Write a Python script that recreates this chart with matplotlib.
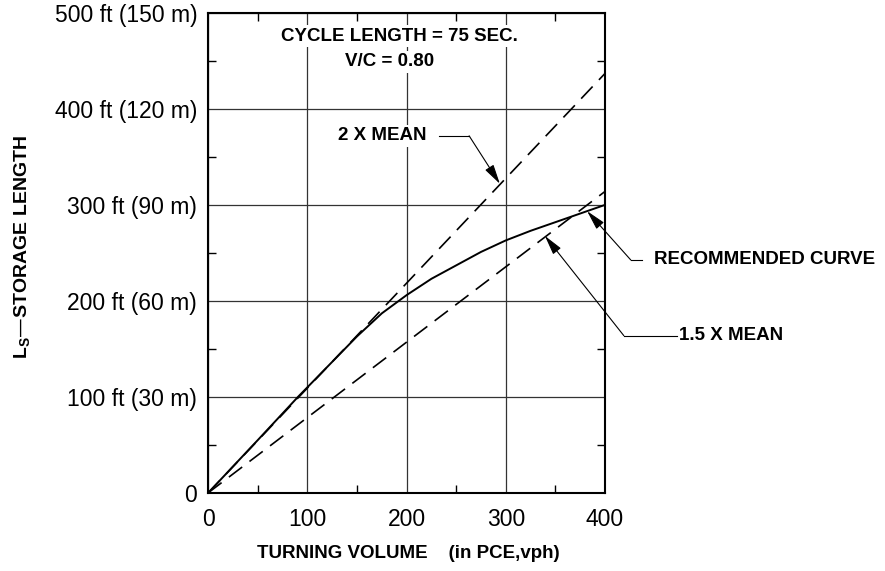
import numpy as np
import matplotlib
matplotlib.use("Agg")
import matplotlib.pyplot as plt

# =========================================================
# DATA
# =========================================================

# turning volume (PCE, vph) and storage length (ft)
vol_recommended = [0, 50, 90.5, 100, 150, 175, 200, 225, 250, 275, 300, 325, 350, 375, 400]
len_recommended = [0, 55, 100, 110, 163, 187, 206, 223, 237, 251, 263, 273, 282, 291, 300]

vol_2x = [0, 400]
len_2x = [0, 437]

vol_15x = [0, 400]
len_15x = [0, 314]

x_ticks = [0, 100, 200, 300, 400]
y_ticks = [0, 100, 200, 300, 400, 500]
y_tick_labels = ["0", "100 ft (30 m)", "200 ft (60 m)", "300 ft (90 m)",
                 "400 ft (120 m)", "500 ft (150 m)"]

# =========================================================
# FIGURE
# =========================================================

plt.rcParams["font.family"] = ["Liberation Sans", "DejaVu Sans"]

fig = plt.figure(figsize=(8.85, 5.71), dpi=100)
ax = fig.add_axes([0.2354, 0.1371, 0.4482, 0.8401])

ax.set_xlim(0, 400)
ax.set_ylim(0, 500)

# grid
ax.set_xticks(x_ticks)
ax.set_yticks(y_ticks)
ax.set_xticks(np.arange(50, 400, 100), minor=True)
ax.set_yticks(np.arange(50, 500, 100), minor=True)
ax.grid(True, which="major", color="#333333", linewidth=0.9)
ax.set_axisbelow(True)

ax.set_xticklabels([str(v) for v in x_ticks], fontsize=16.5)
ax.set_yticklabels(y_tick_labels, fontsize=16.5)

ax.tick_params(which="major", length=0, pad=11)
ax.tick_params(axis="y", which="major", pad=8)
ax.tick_params(which="minor", direction="in", length=6, width=1,
               top=True, right=True, color="black")

for s in ax.spines.values():
    s.set_linewidth(1.5)
    s.set_color("black")

# =========================================================
# CURVES
# =========================================================

ax.plot(vol_recommended, len_recommended, color="black", lw=1.4, zorder=3)
ax.plot(vol_2x, len_2x, color="black", lw=1.2, dashes=(10, 5.5), zorder=3)
ax.plot(vol_15x, len_15x, color="black", lw=1.2, dashes=(10, 5.5), zorder=3)

# =========================================================
# TEXT AND LEADERS
# =========================================================

bold = dict(fontsize=13.5, fontweight="bold", color="black")
white = dict(facecolor="white", edgecolor="none", pad=2)

ax.text(193, 476, "CYCLE LENGTH = 75 SEC.", ha="center", va="center",
        bbox=white, zorder=4, **bold)
ax.text(183, 449, "V/C = 0.80", ha="center", va="center",
        bbox=white, zorder=4, **bold)

ax.text(175, 372, "2 X MEAN", ha="center", va="center",
        bbox=white, zorder=4, **bold)

arrow = dict(arrowstyle="-|>,head_length=1.2,head_width=0.3",
             color="black", lw=0.8, shrinkA=0, shrinkB=0)

# 2 X MEAN leader
ax.plot([233, 263], [372, 372], color="black", lw=0.8, zorder=5)
ax.annotate("", xy=(294, 322), xytext=(263, 372), arrowprops=arrow, zorder=5)

# recommended curve leader
ax.plot([426, 437.5], [242.6, 242.6], color="black", lw=0.8,
        clip_on=False, zorder=5)
ax.annotate("", xy=(382, 293.5), xytext=(426, 242.6), arrowprops=arrow,
            annotation_clip=False, zorder=5)
ax.text(449, 242.6, "RECOMMENDED CURVE", ha="left", va="center",
        clip_on=False, **bold)

# 1.5 X mean leader
ax.plot([419, 473], [163.7, 163.7], color="black", lw=0.8,
        clip_on=False, zorder=5)
ax.annotate("", xy=(339.4, 267.7), xytext=(419, 163.7), arrowprops=arrow,
            annotation_clip=False, zorder=5)
ax.text(475, 163.7, "1.5 X MEAN", ha="left", va="center",
        clip_on=False, **bold)

# axis labels
fig.text(0.4616, 0.0315, "TURNING VOLUME    (in PCE,vph)", ha="center",
         va="center", fontsize=13.5, fontweight="bold")
fig.text(0.026, 0.567, r"L$_\mathregular{S}$—STORAGE LENGTH", rotation=90,
         ha="center", va="center", fontsize=14, fontweight="bold")

fig.savefig("out.png", dpi=100)
